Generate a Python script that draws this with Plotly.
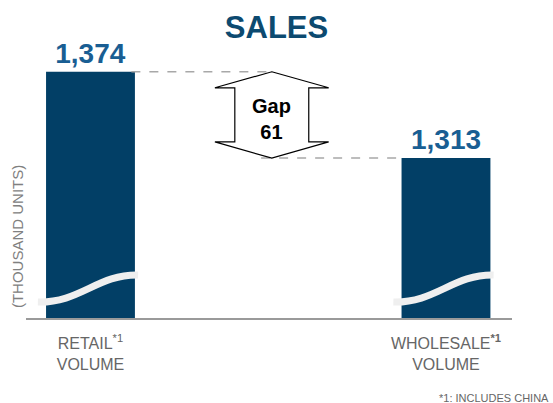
import plotly.graph_objects as go

# data
categories = ["RETAIL<sup>*1</sup><br>VOLUME", "WHOLESALE<b><sup>*1</sup></b><br>VOLUME"]
volumes = [1374, 1313]          # thousand units
footnote = "*1: INCLUDES CHINA"

gap = volumes[0] - volumes[1]
xs = [0, 1]
bar_w = 0.25
arrow_x = 0.51

FONT = "Liberation Sans, Arial, Helvetica, sans-serif"
BAR = "#023f66"

fig = go.Figure()

fig.add_trace(go.Bar(
    x=xs, y=volumes, width=bar_w,
    marker=dict(color=BAR, line=dict(width=0)),
    texttemplate="<b>%{y:,}</b>", textposition="outside",
    textfont=dict(family=FONT, size=28, color="#195e93"),
    cliponaxis=False, hoverinfo="skip",
))

shapes = []
# broken-axis wave across each bar
for i in xs:
    shapes.append(dict(
        type="path", xref="x", yref="y", layer="above",
        path=(f"M {i-0.148},1211.3 C {i-0.03},1210.5 {i+0.02},1231 {i+0.134},1230.4"),
        line=dict(color="#efefef", width=7),
    ))

# dashed guides from bar tops to the gap arrow
shapes.append(dict(type="line", xref="x", yref="y",
                   x0=xs[0] + bar_w / 2 - 0.01, x1=arrow_x, y0=volumes[0], y1=volumes[0],
                   line=dict(color="#a8a8a8", width=1.5, dash="dash")))
shapes.append(dict(type="line", xref="x", yref="y",
                   x0=arrow_x - 0.03, x1=xs[1] - bar_w / 2, y0=volumes[1], y1=volumes[1],
                   line=dict(color="#a8a8a8", width=1.5, dash="dash")))

# double-headed arrow
hw, fw = 0.104, 0.16
y_top, y_bot = volumes[0], volumes[1]
f_top, f_bot = y_top - 11.3, y_bot + 11.5
c = arrow_x
arrow_path = (f"M {c},{y_top} L {c+fw},{f_top} L {c+hw},{f_top} L {c+hw},{f_bot} "
              f"L {c+fw},{f_bot} L {c},{y_bot} L {c-fw},{f_bot} L {c-hw},{f_bot} "
              f"L {c-hw},{f_top} L {c-fw},{f_top} Z")
shapes.append(dict(type="path", xref="x", yref="y", layer="above", path=arrow_path,
                   fillcolor="white", line=dict(color="black", width=1.2)))

annotations = [
    dict(x=c, y=(y_top + y_bot) / 2, xref="x", yref="y", showarrow=False, yshift=-4,
         text=f"<b>Gap<br>{gap}</b>", font=dict(family=FONT, size=20, color="black"),
         align="center"),
    dict(x=-0.0185, y=0.286, xref="paper", yref="paper", showarrow=False,
         xanchor="center", yanchor="middle",
         text="(THOUSAND UNITS)", textangle=-90,
         font=dict(family=FONT, size=15, color="#808080")),
    dict(x=1.08, y=-0.283, xref="paper", yref="paper", showarrow=False,
         xanchor="right", yanchor="middle", text=footnote,
         font=dict(family=FONT, size=11, color="#666666")),
]

fig.update_layout(
    width=553, height=403,
    margin=dict(l=26, r=41, t=35, b=85),
    paper_bgcolor="white", plot_bgcolor="white",
    showlegend=False,
    title=dict(text="<b>SALES</b>", x=0.5, xanchor="center", y=1 - 27 / 403,
               yanchor="middle", font=dict(family=FONT, size=31, color="#0c4a70")),
    xaxis=dict(range=[-0.1814, 1.1857], tickvals=xs, ticktext=categories,
               showline=True, linecolor="#9a9a9a", linewidth=2, showgrid=False,
               zeroline=False, ticks="", fixedrange=True, ticklabelstandoff=10,
               tickfont=dict(family=FONT, size=16, color="#666666")),
    yaxis=dict(range=[1200, 1400], showticklabels=False, showgrid=False,
               zeroline=False, showline=False, fixedrange=True),
    shapes=shapes,
    annotations=annotations,
)

fig.write_html("out.html", config={"displayModeBar": False},
               post_script="document.body.style.margin='0';")
